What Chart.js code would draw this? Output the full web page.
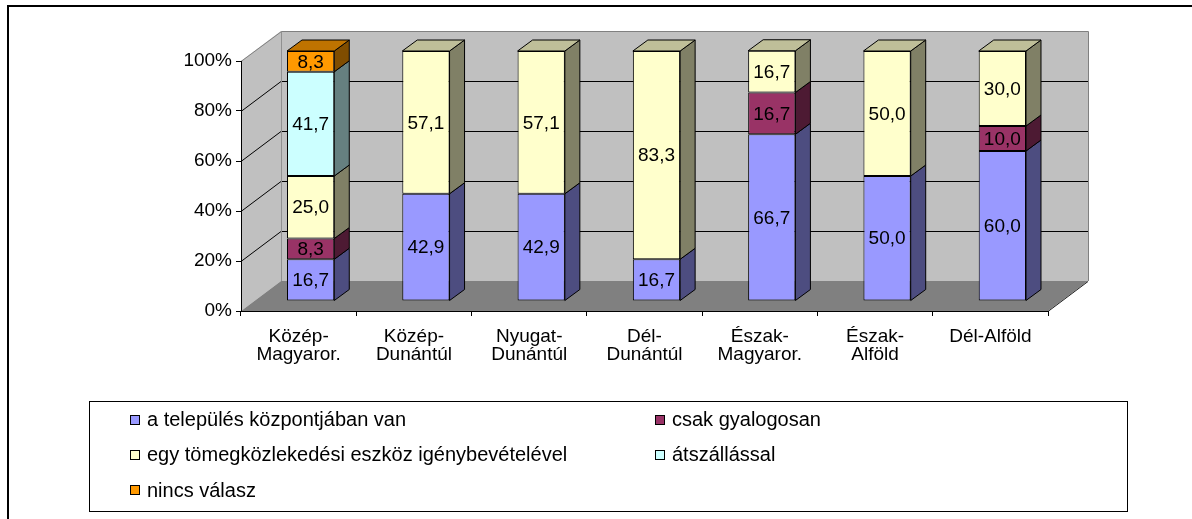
<!DOCTYPE html>
<html>
<head>
<meta charset="utf-8">
<script src="https://cdn.jsdelivr.net/npm/chart.js@4/dist/chart.umd.min.js"></script>
<style>
  html, body { margin: 0; padding: 0; background: #fff; }
  canvas { display: block; }
</style>
</head>
<body>
<canvas id="c" width="1192" height="519"></canvas>
<script>
// Regions (two-line labels where the region name wraps)
const regions = [
  ['Közép-', 'Magyaror.'],
  ['Közép-', 'Dunántúl'],
  ['Nyugat-', 'Dunántúl'],
  ['Dél-', 'Dunántúl'],
  ['Észak-', 'Magyaror.'],
  ['Észak-', 'Alföld'],
  'Dél-Alföld'
];

// Share of answers per region (%), null where there is no answer of that kind
const kozpontban   = [16.7, 42.9, 42.9, 16.7, 66.7, 50.0, 60.0];
const gyalogosan   = [8.3, null, null, null, 16.7, null, 10.0];
const tomegkozl    = [25.0, 57.1, 57.1, 83.3, 16.7, 50.0, 30.0];
const atszallassal = [41.7, null, null, null, null, null, null];
const nincsValasz  = [8.3, null, null, null, null, null, null];

const seriesNames = [
  'a település központjában van',
  'csak gyalogosan',
  'egy tömegközlekedési eszköz igénybevételével',
  'átszállással',
  'nincs válasz'
];
const seriesColors = ['#9999FF', '#993366', '#FFFFCC', '#CCFFFF', '#FF9900'];
const seriesData = [kozpontban, gyalogosan, tomegkozl, atszallassal, nincsValasz];

const yMax = 100;
const yStep = 20;

const FONT = '"Liberation Sans", Arial, sans-serif';

// 3D geometry: depth of the walls/floor and of the bars, bar plane offset
const WALL = { dx: 40, dy: -30 };
const BAR = { shiftX: 12, shiftY: -10, dx: 15, dy: -11 };

function shade(hex, f) {
  const n = parseInt(hex.slice(1), 16);
  const r = Math.round(((n >> 16) & 255) * f);
  const g = Math.round(((n >> 8) & 255) * f);
  const b = Math.round((n & 255) * f);
  return `rgb(${r},${g},${b})`;
}

function poly(ctx, pts, fill, stroke) {
  ctx.beginPath();
  ctx.moveTo(pts[0][0], pts[0][1]);
  for (let i = 1; i < pts.length; i++) ctx.lineTo(pts[i][0], pts[i][1]);
  ctx.closePath();
  if (fill) { ctx.fillStyle = fill; ctx.fill(); }
  if (stroke) { ctx.strokeStyle = stroke; ctx.lineWidth = 1; ctx.stroke(); }
}

function line(ctx, pts, color) {
  ctx.beginPath();
  ctx.moveTo(pts[0][0], pts[0][1]);
  for (let i = 1; i < pts.length; i++) ctx.lineTo(pts[i][0], pts[i][1]);
  ctx.strokeStyle = color;
  ctx.lineWidth = 1;
  ctx.stroke();
}

const fmt = v => v.toFixed(1).replace('.', ',');

// Walls, floor and wall gridlines behind the axes
const walls = {
  id: 'walls',
  beforeDraw(chart) {
    const ctx = chart.ctx;
    const xs = chart.scales.x, ys = chart.scales.y;
    const L = xs.left, R = xs.right;
    const T = ys.getPixelForValue(yMax), B = ys.getPixelForValue(0);
    const dx = WALL.dx, dy = WALL.dy;
    ctx.save();
    // back wall
    poly(ctx, [[L + dx, T + dy], [R + dx, T + dy], [R + dx, B + dy], [L + dx, B + dy]], '#C0C0C0');
    // side wall
    poly(ctx, [[L, T], [L + dx, T + dy], [L + dx, B + dy], [L, B]], '#C0C0C0');
    // gridlines
    for (let v = yStep; v < yMax; v += yStep) {
      const py = Math.round(ys.getPixelForValue(v)) + 0.5;
      line(ctx, [[L, py], [L + dx, py + dy], [R + dx + 0.5, py + dy]], '#000');
    }
    // floor
    poly(ctx, [[L, B], [L + dx, B + dy], [R + dx, B + dy], [R, B]], '#808080');
    line(ctx, [[R, B + 0.5], [R + dx, B + dy + 0.5]], '#202020');
    // wall edges
    const tY = Math.round(T + dy) + 0.5;
    line(ctx, [[L, T + 0.5], [L + dx + 0.5, tY], [R + dx + 0.5, tY], [R + dx + 0.5, B + dy]], '#808080');
    line(ctx, [[L + dx + 0.5, tY], [L + dx + 0.5, B + dy]], '#909090');
    ctx.restore();
  }
};

// Shift the bars into the middle of the floor depth and give them side/top faces
const bars3d = {
  id: 'bars3d',
  beforeDatasetsDraw(chart) {
    chart.ctx.save();
    chart.ctx.translate(BAR.shiftX, BAR.shiftY);
  },
  afterDatasetsDraw(chart) {
    const ctx = chart.ctx;
    const dx = BAR.dx, dy = BAR.dy;
    const n = chart.data.labels.length;
    for (let i = 0; i < n; i++) {
      let top = null;
      chart.data.datasets.forEach((ds, d) => {
        const v = ds.data[i];
        const el = chart.getDatasetMeta(d).data[i];
        if (v == null || !el) return;
        const l = el.x - el.width / 2, r = el.x + el.width / 2;
        const t = Math.min(el.y, el.base), b = Math.max(el.y, el.base);
        poly(ctx, [[r, b], [r + dx, b + dy], [r + dx, t + dy], [r, t]], shade(ds.backgroundColor, 0.5), '#000');
        if (!top || t < top.t) top = { l, r, t, color: ds.backgroundColor };
      });
      if (top) {
        poly(ctx, [[top.l, top.t], [top.l + dx, top.t + dy], [top.r + dx, top.t + dy], [top.r, top.t]],
          shade(top.color, 0.75), '#000');
      }
    }
    // value labels
    ctx.font = `normal 19px ${FONT}`;
    ctx.fillStyle = '#000';
    ctx.textAlign = 'center';
    ctx.textBaseline = 'middle';
    chart.data.datasets.forEach((ds, d) => {
      chart.getDatasetMeta(d).data.forEach((el, i) => {
        const v = ds.data[i];
        if (v == null) return;
        ctx.fillText(fmt(v), el.x, (el.y + el.base) / 2 + 1);
      });
    });
    ctx.restore();
  }
};

// Legend box and outer frame
const frame = {
  id: 'frame',
  afterDraw(chart) {
    const ctx = chart.ctx;
    ctx.save();
    ctx.fillStyle = '#000';
    ctx.fillRect(7, 5, chart.width - 7, 2);
    ctx.fillRect(7, 5, 2, chart.height - 5);

    ctx.strokeStyle = '#000';
    ctx.lineWidth = 1;
    ctx.strokeRect(89.5, 401.5, 1038, 110);

    const cols = [130, 655];
    const rows = [419.5, 454.5, 490];
    ctx.font = `normal 20px ${FONT}`;
    ctx.textAlign = 'left';
    ctx.textBaseline = 'middle';
    chart.data.datasets.forEach((ds, d) => {
      const cx = cols[d % 2], cy = rows[Math.floor(d / 2)];
      ctx.fillStyle = ds.backgroundColor;
      ctx.fillRect(cx, Math.round(cy - 5), 10, 10);
      ctx.strokeStyle = '#000';
      ctx.strokeRect(cx + 0.5, Math.round(cy - 5) + 0.5, 9, 9);
      ctx.fillStyle = '#000';
      ctx.fillText(ds.label, cx + 17, cy + 1);
    });
    ctx.restore();
  }
};

Chart.defaults.font.family = FONT;
Chart.defaults.font.weight = 'normal';
Chart.defaults.color = '#000';

new Chart(document.getElementById('c'), {
  type: 'bar',
  data: {
    labels: regions,
    datasets: seriesData.map((data, k) => ({
      label: seriesNames[k],
      data,
      backgroundColor: seriesColors[k],
      borderColor: '#000',
      borderWidth: 1,
      borderSkipped: false,
      barPercentage: 0.41,
      categoryPercentage: 1,
      clip: false
    }))
  },
  options: {
    responsive: false,
    animation: false,
    devicePixelRatio: 1,
    layout: { padding: { left: 0, top: 61, right: 144, bottom: 0 } },
    plugins: { legend: { display: false }, tooltip: { enabled: false } },
    scales: {
      x: {
        stacked: true,
        grid: { drawOnChartArea: false, drawTicks: true, tickLength: 5, color: '#000', offset: true },
        border: { display: true, color: '#000', width: 1 },
        ticks: {
          font: { size: 19, weight: 'normal', lineHeight: 0.95 },
          color: '#000',
          padding: 12,
          maxRotation: 0,
          autoSkip: false
        },
        afterFit(scale) { scale.height = 208; }
      },
      y: {
        stacked: true,
        min: 0,
        max: yMax,
        grid: { drawOnChartArea: false, drawTicks: true, tickLength: 5, color: '#000' },
        border: { display: true, color: '#000', width: 1 },
        ticks: {
          stepSize: yStep,
          font: { size: 19, weight: 'normal' },
          color: '#000',
          padding: 4,
          callback: v => v + '%'
        },
        afterFit(scale) { scale.width = 241; }
      }
    }
  },
  plugins: [walls, bars3d, frame]
});
</script>
</body>
</html>
